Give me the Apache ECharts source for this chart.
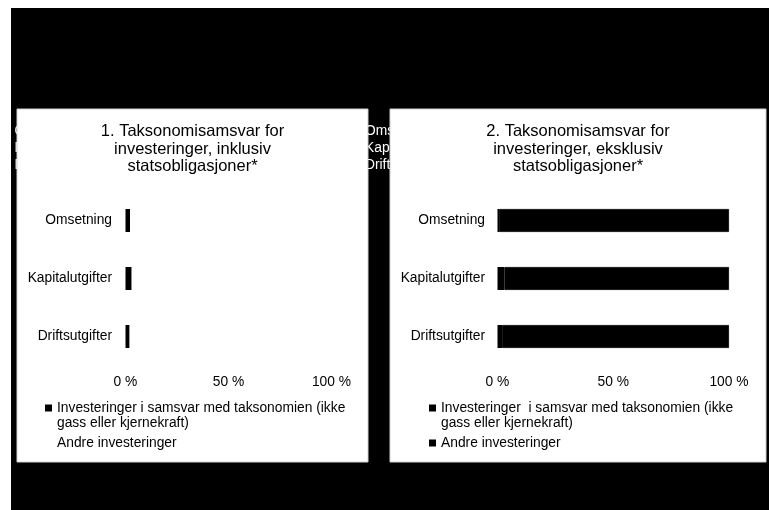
<!DOCTYPE html>
<html>
<head>
<meta charset="utf-8">
<script src="https://cdn.jsdelivr.net/npm/echarts@6/dist/echarts.min.js"></script>
<style>
html,body{margin:0;padding:0;background:#fff;}
#c{width:769px;height:510px;}
</style>
</head>
<body>
<div id="c"></div>
<script>
const categories = ['Omsetning', 'Kapitalutgifter', 'Driftsutgifter'];
const titleLeft = '1. Taksonomisamsvar for\ninvesteringer, inklusiv\nstatsobligasjoner*';
const titleRight = '2. Taksonomisamsvar for\ninvesteringer, eksklusiv\nstatsobligasjoner*';
const seriesAlignedLeft = 'Investeringer i samsvar med taksonomien (ikke\ngass eller kjernekraft)';
const seriesAlignedRight = 'Investeringer  i samsvar med taksonomien (ikke\ngass eller kjernekraft)';
const seriesOther = 'Andre investeringer';
const leftAligned = [2.2, 3, 2];
const leftOther = [97.8, 97, 98];
const rightAligned = [0.7, 3, 2];
const rightOther = [99.3, 97, 98];
const xMin = 0, xMax = 100, xInterval = 50;

const FONT = '"Liberation Sans", Arial, sans-serif';
const chart = echarts.init(document.getElementById('c'), null, {renderer: 'canvas'});

function hiddenLabels(x) {
  return categories.map((c, i) => ({
    type: 'text', x: x, y: [131, 148, 165][i], z: 1,
    style: {text: c, fill: '#fff', font: '13.8px ' + FONT, verticalAlign: 'middle', align: 'left'}
  }));
}

function xAxis(gi) {
  return {
    type: 'value', gridIndex: gi, min: xMin, max: xMax, interval: xInterval, z: 10,
    axisLine: {show: false}, axisTick: {show: false}, splitLine: {show: false},
    axisLabel: {formatter: '{value} %', color: '#000', fontSize: 13.8, fontFamily: FONT, margin: 10}
  };
}
function yAxis(gi, margin) {
  return {
    type: 'category', gridIndex: gi, data: categories, inverse: true, z: 10,
    axisLine: {show: false}, axisTick: {show: false},
    axisLabel: {color: '#000', fontSize: 13.8, fontFamily: FONT, margin: margin}
  };
}
const legendText = {color: '#000', fontSize: 13.8, fontFamily: FONT, lineHeight: 15};
const fmt = n => (n.indexOf('\n') >= 0 ? '\n' + n : n);

chart.setOption({
  animation: false,
  backgroundColor: '#fff',
  graphic: [
    {type: 'rect', z: 0, shape: {x: 11, y: 8, width: 758, height: 502}, style: {fill: '#000'}},
    ...hiddenLabels(14.5),
    ...hiddenLabels(365),
    {type: 'rect', z: 2, shape: {x: 17, y: 109, width: 351, height: 353}, style: {fill: '#fff', stroke: '#d0d0d0', lineWidth: 1}},
    {type: 'rect', z: 2, shape: {x: 390, y: 109, width: 376, height: 353}, style: {fill: '#fff', stroke: '#d0d0d0', lineWidth: 1}}
  ],
  title: [
    {text: titleLeft, left: 192.5, top: 123, padding: 0, textAlign: 'center', z: 10,
     textStyle: {color: '#000', fontSize: 16.5, fontWeight: 'normal', fontFamily: FONT, lineHeight: 17.5}},
    {text: titleRight, left: 578, top: 123, padding: 0, textAlign: 'center', z: 10,
     textStyle: {color: '#000', fontSize: 16.5, fontWeight: 'normal', fontFamily: FONT, lineHeight: 17.5}}
  ],
  legend: [
    {orient: 'vertical', left: 45, top: 385.5, padding: 0, itemGap: 5, itemWidth: 7, itemHeight: 7,
     icon: 'rect', formatter: fmt, textStyle: legendText, selectedMode: false, z: 10,
     data: [{name: seriesAlignedLeft, itemStyle: {color: '#000'}}, {name: seriesOther, itemStyle: {color: '#fff'}}]},
    {orient: 'vertical', left: 429, top: 385.5, padding: 0, itemGap: 5, itemWidth: 7, itemHeight: 7,
     icon: 'rect', formatter: fmt, textStyle: legendText, selectedMode: false, z: 10,
     data: [{name: seriesAlignedRight, itemStyle: {color: '#000'}}, {name: seriesOther, itemStyle: {color: '#000'}}]}
  ],
  grid: [
    {left: 125.5, width: 206, top: 191.5, height: 174, containLabel: false, z: 10},
    {left: 497.5, width: 231.5, top: 191.5, height: 174, containLabel: false, z: 10}
  ],
  xAxis: [xAxis(0), xAxis(1)],
  yAxis: [yAxis(0, 13.5), yAxis(1, 12.5)],
  series: [
    {name: seriesAlignedLeft, type: 'bar', stack: 'L', xAxisIndex: 0, yAxisIndex: 0, barWidth: 23, data: leftAligned, itemStyle: {color: '#000'}, z: 10},
    {name: seriesOther, type: 'bar', stack: 'L', xAxisIndex: 0, yAxisIndex: 0, barWidth: 23, data: leftOther, itemStyle: {color: '#fff'}, z: 10},
    {name: seriesAlignedRight, type: 'bar', stack: 'R', xAxisIndex: 1, yAxisIndex: 1, barWidth: 23, data: rightAligned, itemStyle: {color: '#000'}, z: 10},
    {name: seriesOther, type: 'bar', stack: 'R', xAxisIndex: 1, yAxisIndex: 1, barWidth: 23, data: rightOther, itemStyle: {color: '#000', borderColor: '#000', borderWidth: 0.8}, z: 10}
  ]
});
</script>
</body>
</html>
